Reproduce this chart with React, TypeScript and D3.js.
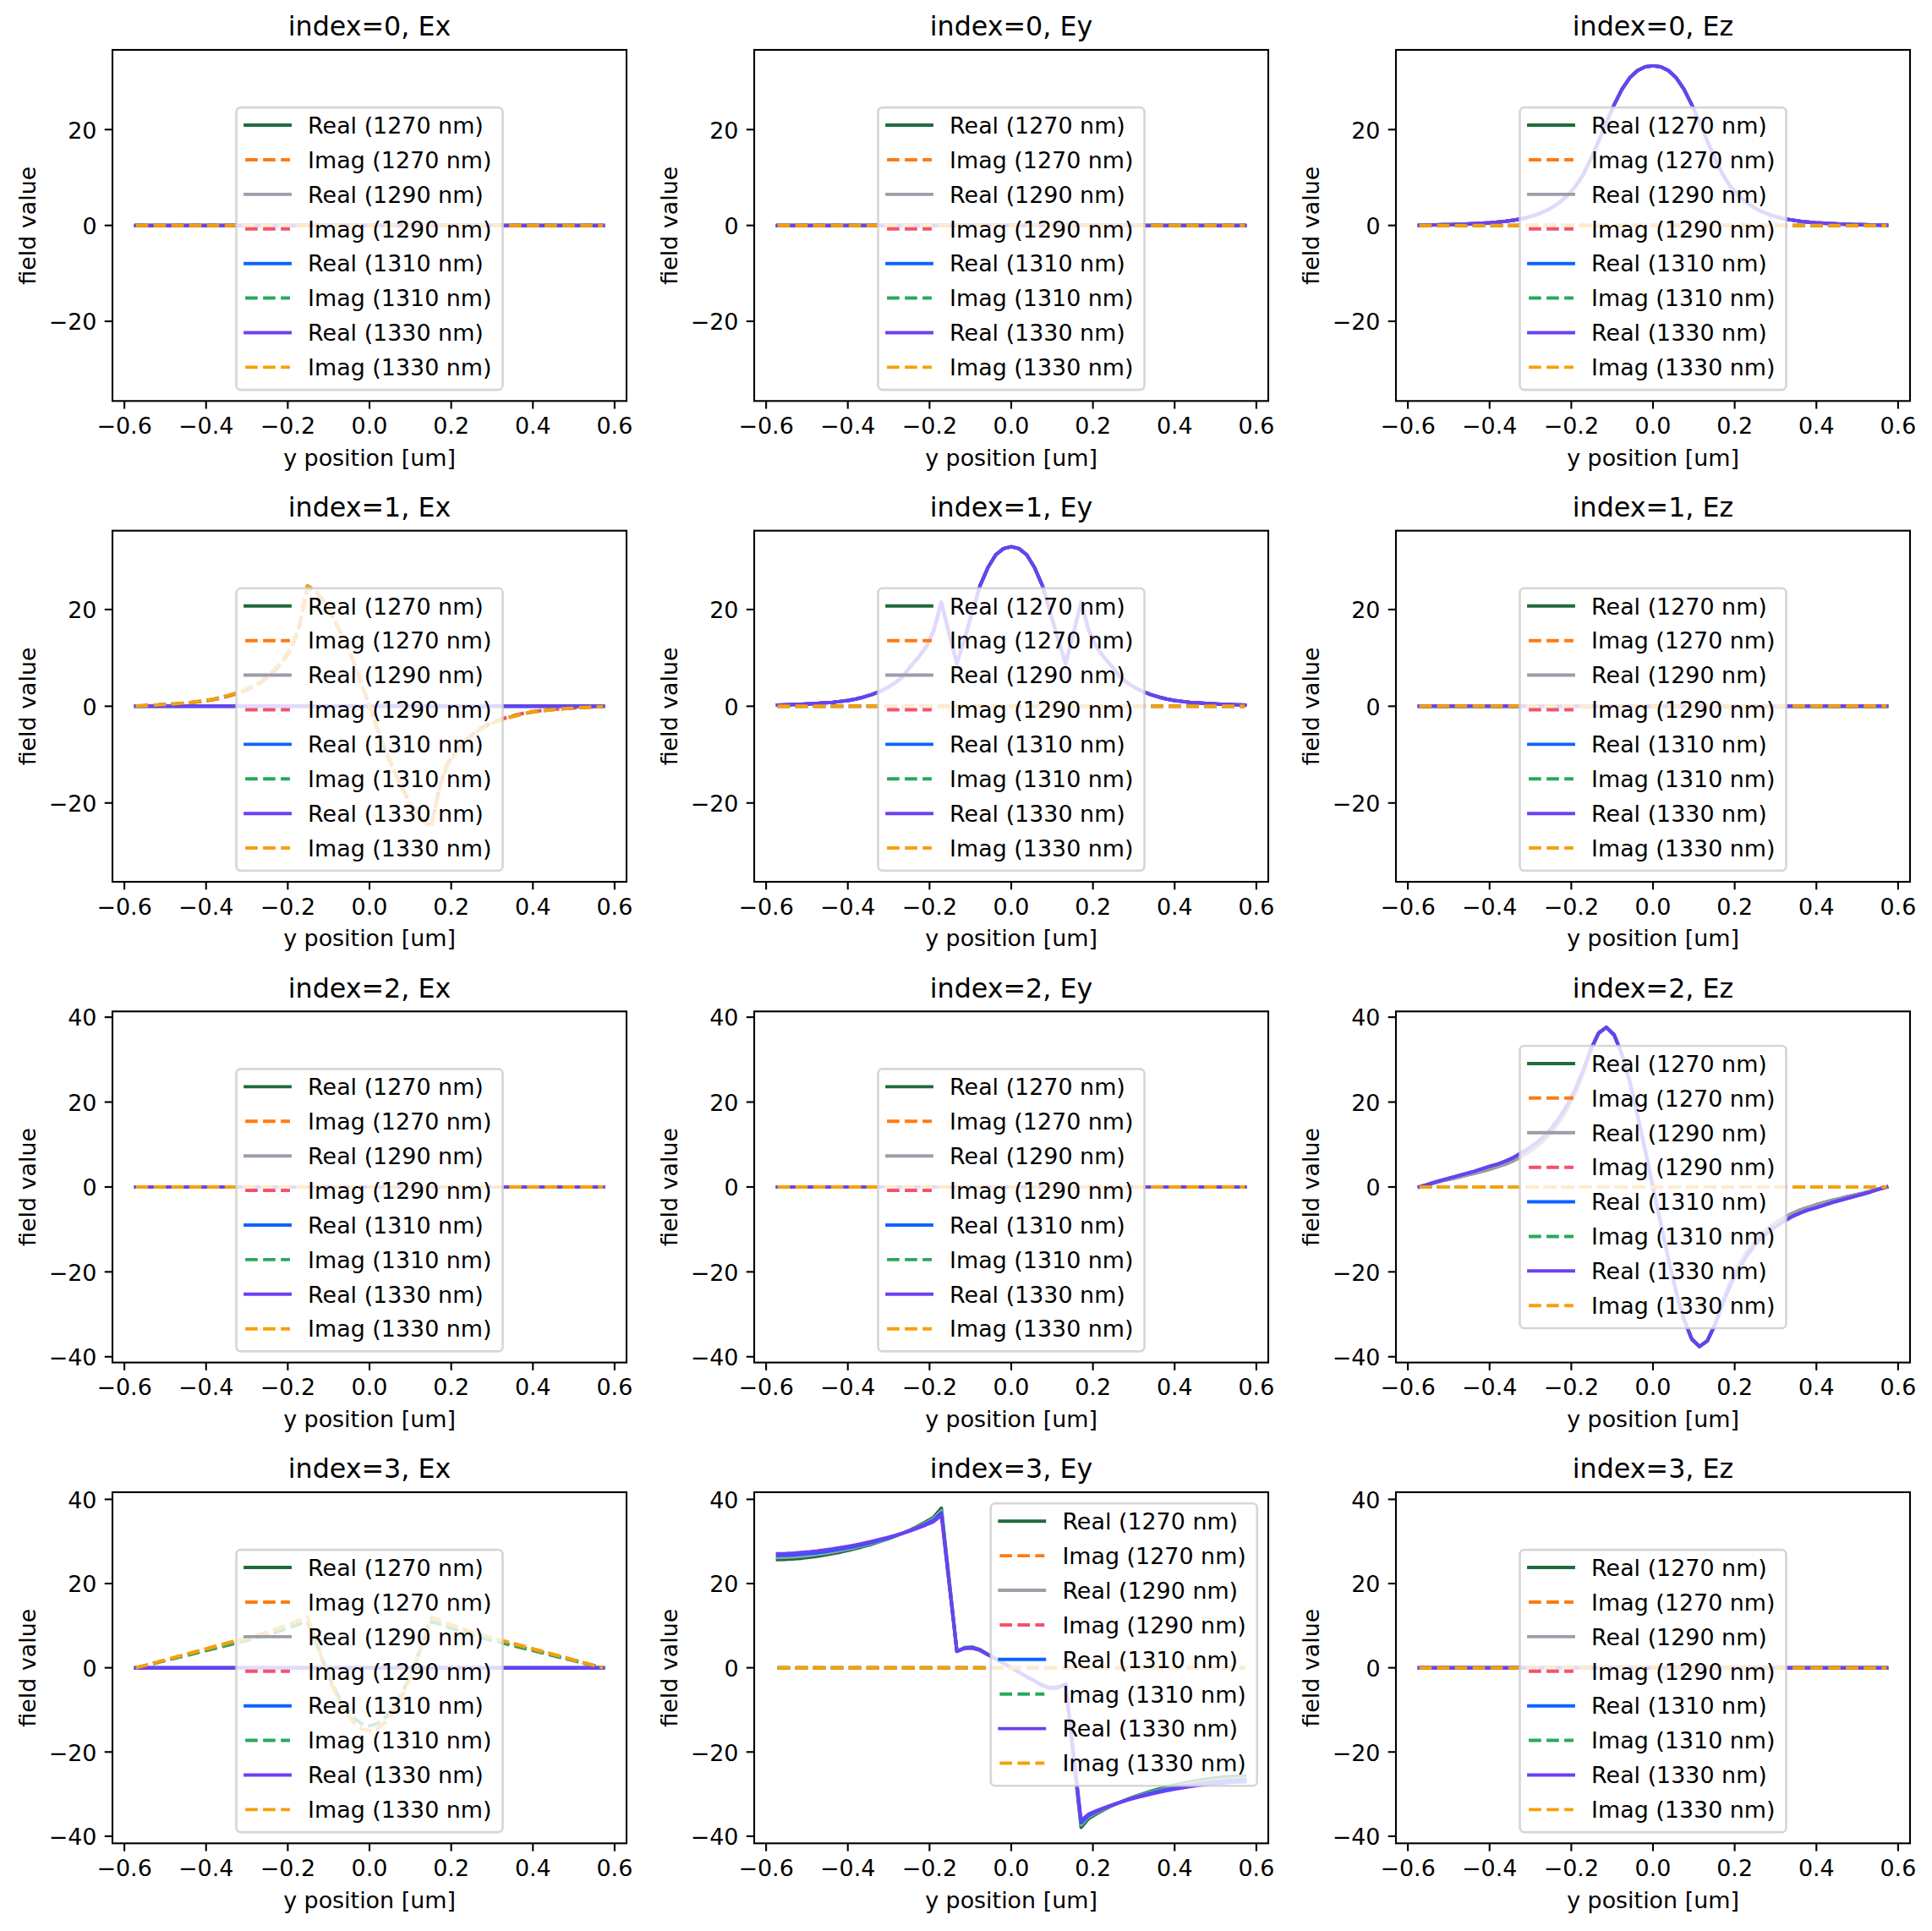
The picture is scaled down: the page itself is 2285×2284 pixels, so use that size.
import React, { useEffect } from 'react';
import * as d3 from 'd3';

// ---------------- DATA ----------------
const modeIndices = [0, 1, 2, 3];
const components = ['Ex', 'Ey', 'Ez'];
const wavelengths = [1270, 1290, 1310, 1330];

const xTicks = [-0.6, -0.4, -0.2, 0.0, 0.2, 0.4, 0.6];
const yTicksByRow = [
  [-20, 0, 20],
  [-20, 0, 20],
  [-40, -20, 0, 20, 40],
  [-40, -20, 0, 20, 40],
];

// sample positions (um)
const yPosition = [
  -0.572, -0.551, -0.532, -0.513, -0.494, -0.475, -0.456, -0.437, -0.418, -0.399,
  -0.380, -0.361, -0.342, -0.323, -0.304, -0.285, -0.266, -0.247, -0.228, -0.209,
  -0.190, -0.171, -0.152, -0.133, -0.114, -0.095, -0.076, -0.057, -0.038, -0.019,
  0,
  0.019, 0.038, 0.057, 0.076, 0.095, 0.114, 0.133, 0.152, 0.171, 0.190,
  0.209, 0.228, 0.247, 0.266, 0.285, 0.304, 0.323, 0.342, 0.361, 0.380,
  0.399, 0.418, 0.437, 0.456, 0.475, 0.494, 0.513, 0.532, 0.551, 0.572,
];

const zeroField = [
  0, 0, 0, 0, 0, 0, 0, 0, 0, 0, 0, 0, 0, 0, 0, 0, 0, 0, 0, 0,
  0, 0, 0, 0, 0, 0, 0, 0, 0, 0, 0,
  0, 0, 0, 0, 0, 0, 0, 0, 0, 0, 0, 0, 0, 0, 0, 0, 0, 0, 0, 0,
  0, 0, 0, 0, 0, 0, 0, 0, 0, 0,
];

// index=0, Ez real
const ez0Real = [
  0.02, 0.06, 0.1, 0.14, 0.18, 0.23, 0.3, 0.37, 0.46, 0.56,
  0.7, 0.87, 1.1, 1.35, 1.75, 2.25, 2.9, 3.75, 4.85, 6.3,
  8.1, 10.6, 13.9, 17.6, 21.5, 25.2, 28.4, 30.8, 32.3, 33.1,
  33.3,
  33.1, 32.3, 30.8, 28.4, 25.2, 21.5, 17.6, 13.9, 10.6, 8.1,
  6.3, 4.85, 3.75, 2.9, 2.25, 1.75, 1.35, 1.1, 0.87, 0.7,
  0.56, 0.46, 0.37, 0.3, 0.23, 0.18, 0.14, 0.1, 0.06, 0.02,
];

// index=1, Ex imag (1310 / 1330)
const ex1ImagA = [
  0.05, 0.12, 0.2, 0.3, 0.4, 0.5, 0.65, 0.8, 1.0, 1.2,
  1.5, 1.9, 2.3, 2.8, 3.4, 4.2, 5.1, 6.5, 8.0, 9.9,
  12.3, 17.0, 24.9, 24.0, 22.1, 19.5, 16.3, 12.8, 9.0, 4.6,
  0,
  -4.6, -9.0, -12.8, -16.3, -19.5, -22.1, -24.0, -24.9, -17.0, -12.3,
  -9.9, -8.0, -6.5, -5.1, -4.2, -3.4, -2.8, -2.3, -1.9, -1.5,
  -1.2, -1.0, -0.8, -0.65, -0.5, -0.4, -0.3, -0.2, -0.12, -0.05,
];
// index=1, Ex imag (1270 / 1290)
const ex1ImagB = [
  0.04, 0.1, 0.18, 0.27, 0.36, 0.46, 0.6, 0.74, 0.92, 1.12,
  1.4, 1.78, 2.18, 2.66, 3.25, 4.0, 4.9, 6.2, 7.7, 9.6,
  12.0, 16.7, 24.6, 23.8, 21.9, 19.3, 16.1, 12.7, 8.9, 4.5,
  0,
  -4.5, -8.9, -12.7, -16.1, -19.3, -21.9, -23.8, -24.6, -16.7, -12.0,
  -9.6, -7.7, -6.2, -4.9, -4.0, -3.25, -2.66, -2.18, -1.78, -1.4,
  -1.12, -0.92, -0.74, -0.6, -0.46, -0.36, -0.27, -0.18, -0.1, -0.04,
];

// index=1, Ey real
const ey1Real = [
  0.25, 0.3, 0.35, 0.4, 0.5, 0.6, 0.7, 0.8, 1.0, 1.2,
  1.5, 1.9, 2.4, 3.0, 3.8, 4.8, 6.1, 8.2, 10.0, 12.2,
  15.6, 21.5, 15.0, 8.8, 14.0, 19.6, 25.0, 28.7, 31.3, 32.6,
  33.0,
  32.6, 31.3, 28.7, 25.0, 19.6, 14.0, 8.8, 15.0, 21.5, 15.6,
  12.2, 10.0, 8.2, 6.1, 4.8, 3.8, 3.0, 2.4, 1.9, 1.5,
  1.2, 1.0, 0.8, 0.7, 0.6, 0.5, 0.4, 0.35, 0.3, 0.25,
];

// index=2, Ez real
const ez2Real1330 = [
  0, 0.6, 1.2, 1.7, 2.2, 2.7, 3.2, 3.7, 4.3, 4.9,
  5.4, 6.1, 6.9, 8.0, 9.1, 10.4, 12.0, 14.0, 16.5, 19.5,
  23.0, 27.5, 32.5, 36.3, 37.6, 35.8, 31.2, 24.8, 17.0, 8.6,
  0,
  -8.6, -17.0, -24.8, -31.2, -35.8, -37.6, -36.3, -32.5, -27.5, -23.0,
  -19.5, -16.5, -14.0, -12.0, -10.4, -9.1, -8.0, -6.9, -6.1, -5.4,
  -4.9, -4.3, -3.7, -3.2, -2.7, -2.2, -1.7, -1.2, -0.6, 0,
];
const ez2Real1270 = [
  0, 0.5, 1.0, 1.5, 1.9, 2.3, 2.8, 3.2, 3.7, 4.2,
  4.8, 5.4, 6.2, 7.1, 8.2, 9.5, 11.1, 13.1, 15.6, 18.7,
  22.3, 27.0, 32.2, 36.2, 37.6, 35.9, 31.3, 24.9, 17.1, 8.7,
  0,
  -8.7, -17.1, -24.9, -31.3, -35.9, -37.6, -36.2, -32.2, -27.0, -22.3,
  -18.7, -15.6, -13.1, -11.1, -9.5, -8.2, -7.1, -6.2, -5.4, -4.8,
  -4.2, -3.7, -3.2, -2.8, -2.3, -1.9, -1.5, -1.0, -0.5, 0,
];

// index=3, Ex imag
const ex3ImagHi = [
  0, 0.5, 1.0, 1.5, 2.0, 2.5, 3.0, 3.5, 4.0, 4.5,
  5.0, 5.5, 6.0, 6.5, 7.0, 7.5, 8.0, 8.6, 9.2, 9.9,
  10.6, 11.3, 12.0, 7.0, 1.5, -3.5, -7.5, -10.6, -13.0, -14.5,
  -15.0,
  -14.5, -13.0, -10.6, -7.5, -3.5, 1.5, 7.0, 12.0, 11.3, 10.6,
  9.9, 9.2, 8.6, 8.0, 7.5, 7.0, 6.5, 6.0, 5.5, 5.0,
  4.5, 4.0, 3.5, 3.0, 2.5, 2.0, 1.5, 1.0, 0.5, 0,
];
const ex3ImagLo = [
  0, 0.45, 0.9, 1.4, 1.85, 2.3, 2.75, 3.2, 3.7, 4.15,
  4.6, 5.05, 5.5, 6.0, 6.45, 6.9, 7.4, 7.9, 8.5, 9.1,
  9.75, 10.4, 11.0, 6.6, 1.6, -3.0, -6.8, -9.7, -11.9, -13.3,
  -13.8,
  -13.3, -11.9, -9.7, -6.8, -3.0, 1.6, 6.6, 11.0, 10.4, 9.75,
  9.1, 8.5, 7.9, 7.4, 6.9, 6.45, 6.0, 5.5, 5.05, 4.6,
  4.15, 3.7, 3.2, 2.75, 2.3, 1.85, 1.4, 0.9, 0.45, 0,
];

// index=3, Ey real
const ey3Real1270 = [
  25.7, 25.75, 25.85, 26.0, 26.2, 26.45, 26.75, 27.1, 27.45, 27.85,
  28.3, 28.8, 29.3, 29.9, 30.5, 31.2, 31.95, 32.75, 33.65, 34.65,
  35.75, 37.9, 20.9, 3.9, 4.8, 4.9, 4.3, 3.2, 2.2, 1.1,
  0,
  -1.1, -2.2, -3.2, -4.3, -4.9, -4.8, -3.9, -20.9, -37.9, -35.75,
  -34.65, -33.65, -32.75, -31.95, -31.2, -30.5, -29.9, -29.3, -28.8, -28.3,
  -27.85, -27.45, -27.1, -26.75, -26.45, -26.2, -26.0, -25.85, -25.75, -25.7,
];
const ey3Real1290 = [
  26.2, 26.25, 26.35, 26.5, 26.7, 26.95, 27.2, 27.5, 27.85, 28.2,
  28.6, 29.05, 29.5, 30.05, 30.6, 31.25, 31.95, 32.7, 33.5, 34.4,
  35.4, 37.3, 20.6, 3.9, 4.7, 4.85, 4.2, 3.15, 2.15, 1.1,
  0,
  -1.1, -2.15, -3.15, -4.2, -4.85, -4.7, -3.9, -20.6, -37.3, -35.4,
  -34.4, -33.5, -32.7, -31.95, -31.25, -30.6, -30.05, -29.5, -29.05, -28.6,
  -28.2, -27.85, -27.5, -27.2, -26.95, -26.7, -26.5, -26.35, -26.25, -26.2,
];
const ey3Real1310 = [
  26.7, 26.75, 26.85, 27.0, 27.15, 27.35, 27.6, 27.9, 28.2, 28.55,
  28.9, 29.3, 29.75, 30.25, 30.75, 31.3, 31.95, 32.6, 33.35, 34.15,
  35.05, 36.8, 20.3, 3.9, 4.65, 4.75, 4.15, 3.1, 2.1, 1.05,
  0,
  -1.05, -2.1, -3.1, -4.15, -4.75, -4.65, -3.9, -20.3, -36.8, -35.05,
  -34.15, -33.35, -32.6, -31.95, -31.3, -30.75, -30.25, -29.75, -29.3, -28.9,
  -28.55, -28.2, -27.9, -27.6, -27.35, -27.15, -27.0, -26.85, -26.75, -26.7,
];
const ey3Real1330 = [
  27.1, 27.15, 27.25, 27.4, 27.55, 27.75, 28.0, 28.25, 28.55, 28.85,
  29.2, 29.6, 30.0, 30.45, 30.9, 31.4, 31.95, 32.55, 33.2, 33.9,
  34.7, 36.2, 20.0, 3.9, 4.6, 4.7, 4.1, 3.1, 2.1, 1.05,
  0,
  -1.05, -2.1, -3.1, -4.1, -4.7, -4.6, -3.9, -20.0, -36.2, -34.7,
  -33.9, -33.2, -32.55, -31.95, -31.4, -30.9, -30.45, -30.0, -29.6, -29.2,
  -28.85, -28.55, -28.25, -28.0, -27.75, -27.55, -27.4, -27.25, -27.15, -27.1,
];

// panel table: [mode][component] -> real / imag series per wavelength
const Z = zeroField;
const panelReal = [
  [[Z, Z, Z, Z], [Z, Z, Z, Z], [ez0Real, ez0Real, ez0Real, ez0Real]],
  [[Z, Z, Z, Z], [ey1Real, ey1Real, ey1Real, ey1Real], [Z, Z, Z, Z]],
  [[Z, Z, Z, Z], [Z, Z, Z, Z], [ez2Real1270, ez2Real1270, ez2Real1330, ez2Real1330]],
  [[Z, Z, Z, Z], [ey3Real1270, ey3Real1290, ey3Real1310, ey3Real1330], [Z, Z, Z, Z]],
];
const panelImag = [
  [[Z, Z, Z, Z], [Z, Z, Z, Z], [Z, Z, Z, Z]],
  [[ex1ImagB, ex1ImagB, ex1ImagA, ex1ImagA], [Z, Z, Z, Z], [Z, Z, Z, Z]],
  [[Z, Z, Z, Z], [Z, Z, Z, Z], [Z, Z, Z, Z]],
  [[ex3ImagHi, ex3ImagLo, ex3ImagLo, ex3ImagHi], [Z, Z, Z, Z], [Z, Z, Z, Z]],
];
const legendLoc = [
  ['lower center', 'lower center', 'lower center'],
  ['lower center', 'lower center', 'lower center'],
  ['lower center', 'lower center', 'center'],
  ['lower center', 'upper right', 'lower center'],
];

// ---------------- STYLE / LAYOUT ----------------
const realColors = ['#1e6b3b', '#9b9da9', '#0b64fe', '#6d40f0'];
const imagColors = ['#fd7b12', '#f5516e', '#28a95b', '#f7a00b'];

const FIG_W = 2285;
const FIG_H = 2284;
const PT = 190.4 / 72;
const FS = 10 * PT;
const TEXT_FS = 26.9;
const TITLE_FS = 12 * PT;
const LW = 1.5 * PT;
const DASH = `${3.7 * LW} ${1.6 * LW}`;
const SPINE_W = 0.8 * PT;
const TICK_LEN = 3.5 * PT;
const COL_X = [133, 892, 1651];
const ROW_Y = [59, 627.7, 1196.3, 1765];
const AX_W = 608;
const AX_H = 415.3;
const FONT = "'DejaVu Sans', 'Liberation Sans', sans-serif";

const LEG_W = 315;
const LEG_H = 334;
const LEG_AXPAD = 0.5 * FS;
const LEG_FIRST = 21;
const LEG_PITCH = 40.9;
const LEG_HX = 0.4 * FS;
const LEG_HLEN = 2 * FS;
const LEG_TX = 0.4 * FS + 2 * FS + 0.8 * FS;

const fmtX = d3.format('.1f');
const fmtY = d3.format('d');

function rowMax(row: number): number {
  let m = 0;
  for (let c = 0; c < components.length; c++) {
    for (let w = 0; w < wavelengths.length; w++) {
      m = Math.max(m, d3.max(panelReal[row][c][w], (v: number) => Math.abs(v)) || 0);
      m = Math.max(m, d3.max(panelImag[row][c][w], (v: number) => Math.abs(v)) || 0);
    }
  }
  return m;
}

function Panel({ row, col }: { row: number; col: number }) {
  const x0 = COL_X[col];
  const y0 = ROW_Y[row];
  const xExt = d3.max(yPosition, (v: number) => Math.abs(v)) as number;
  const xScale = d3.scaleLinear().domain([-xExt * 1.1, xExt * 1.1]).range([x0, x0 + AX_W]);
  const M = rowMax(row) * 1.1;
  const yScale = d3.scaleLinear().domain([-M, M]).range([y0 + AX_H, y0]);
  const line = d3
    .line<number>()
    .x((_: number, i: number) => xScale(yPosition[i]))
    .y((v: number) => yScale(v));

  const series: { d: number[]; color: string; dashed: boolean; label: string }[] = [];
  wavelengths.forEach((wl, w) => {
    series.push({ d: panelReal[row][col][w], color: realColors[w], dashed: false, label: `Real (${wl} nm)` });
    series.push({ d: panelImag[row][col][w], color: imagColors[w], dashed: true, label: `Imag (${wl} nm)` });
  });

  const loc = legendLoc[row][col];
  let lx = x0 + AX_W / 2 - LEG_W / 2;
  let ly = y0 + AX_H - LEG_AXPAD - LEG_H;
  if (loc === 'center') {
    ly = y0 + AX_H / 2 - LEG_H / 2;
  } else if (loc === 'upper right') {
    lx = x0 + AX_W - LEG_AXPAD - LEG_W;
    ly = y0 + LEG_AXPAD;
  }

  const clipId = `clip-${row}-${col}`;
  const yTicks = yTicksByRow[row];

  return (
    <g>
      <defs>
        <clipPath id={clipId}>
          <rect x={x0} y={y0} width={AX_W} height={AX_H} />
        </clipPath>
      </defs>
      <g clipPath={`url(#${clipId})`}>
        {series.map((s, i) => (
          <path
            key={i}
            d={line(s.d) || ''}
            fill="none"
            stroke={s.color}
            strokeWidth={LW}
            strokeDasharray={s.dashed ? DASH : undefined}
            strokeLinecap={s.dashed ? 'butt' : 'square'}
            strokeLinejoin="round"
          />
        ))}
      </g>
      {/* spines */}
      <rect x={x0} y={y0} width={AX_W} height={AX_H} fill="none" stroke="#000" strokeWidth={SPINE_W} />
      {/* x ticks */}
      {xTicks.map((t) => (
        <g key={`xt${t}`}>
          <line
            x1={xScale(t)}
            x2={xScale(t)}
            y1={y0 + AX_H}
            y2={y0 + AX_H + TICK_LEN}
            stroke="#000"
            strokeWidth={SPINE_W}
          />
          <text x={xScale(t)} y={y0 + AX_H + 38.8} fontSize={TEXT_FS} textAnchor="middle" fill="#000">
            {fmtX(t)}
          </text>
        </g>
      ))}
      {/* y ticks */}
      {yTicks.map((t) => (
        <g key={`yt${t}`}>
          <line x1={x0 - TICK_LEN} x2={x0} y1={yScale(t)} y2={yScale(t)} stroke="#000" strokeWidth={SPINE_W} />
          <text x={x0 - 2 * TICK_LEN} y={yScale(t) + 10.3} fontSize={TEXT_FS} textAnchor="end" fill="#000">
            {fmtY(t)}
          </text>
        </g>
      ))}
      {/* labels */}
      <text x={x0 + AX_W / 2} y={y0 + AX_H + 76.4} fontSize={TEXT_FS} textAnchor="middle" fill="#000">
        y position [um]
      </text>
      <text
        transform={`translate(${x0 - 91},${y0 + AX_H / 2}) rotate(-90)`}
        fontSize={TEXT_FS}
        textAnchor="middle"
        fill="#000"
      >
        field value
      </text>
      <text x={x0 + AX_W / 2} y={y0 - 16.7} fontSize={TITLE_FS} textAnchor="middle" fill="#000">
        {`index=${modeIndices[row]}, ${components[col]}`}
      </text>
      {/* legend */}
      <g>
        <rect
          x={lx}
          y={ly}
          width={LEG_W}
          height={LEG_H}
          rx={0.2 * FS}
          ry={0.2 * FS}
          fill="#ffffff"
          fillOpacity={0.8}
          stroke="#cccccc"
          strokeOpacity={0.8}
          strokeWidth={PT}
        />
        {series.map((s, i) => {
          const hy = ly + LEG_FIRST + i * LEG_PITCH;
          return (
            <g key={`lg${i}`}>
              <line
                x1={lx + LEG_HX}
                x2={lx + LEG_HX + LEG_HLEN}
                y1={hy}
                y2={hy}
                stroke={s.color}
                strokeWidth={LW}
                strokeDasharray={s.dashed ? DASH : undefined}
                strokeLinecap={s.dashed ? 'butt' : 'square'}
              />
              <text x={lx + LEG_TX} y={hy + 9.8} fontSize={TEXT_FS} fill="#000">
                {s.label}
              </text>
            </g>
          );
        })}
      </g>
    </g>
  );
}

export default function App() {
  useEffect(() => {
    document.body.style.margin = '0';
  }, []);
  return (
    <svg
      width={FIG_W}
      height={FIG_H}
      viewBox={`0 0 ${FIG_W} ${FIG_H}`}
      style={{ display: 'block', position: 'absolute', left: 0, top: 0, background: '#fff' }}
      fontFamily={FONT}
    >
      <rect x={0} y={0} width={FIG_W} height={FIG_H} fill="#fff" />
      {modeIndices.map((m, r) =>
        components.map((c, ci) => <Panel key={`${r}-${ci}`} row={r} col={ci} />)
      )}
    </svg>
  );
}
